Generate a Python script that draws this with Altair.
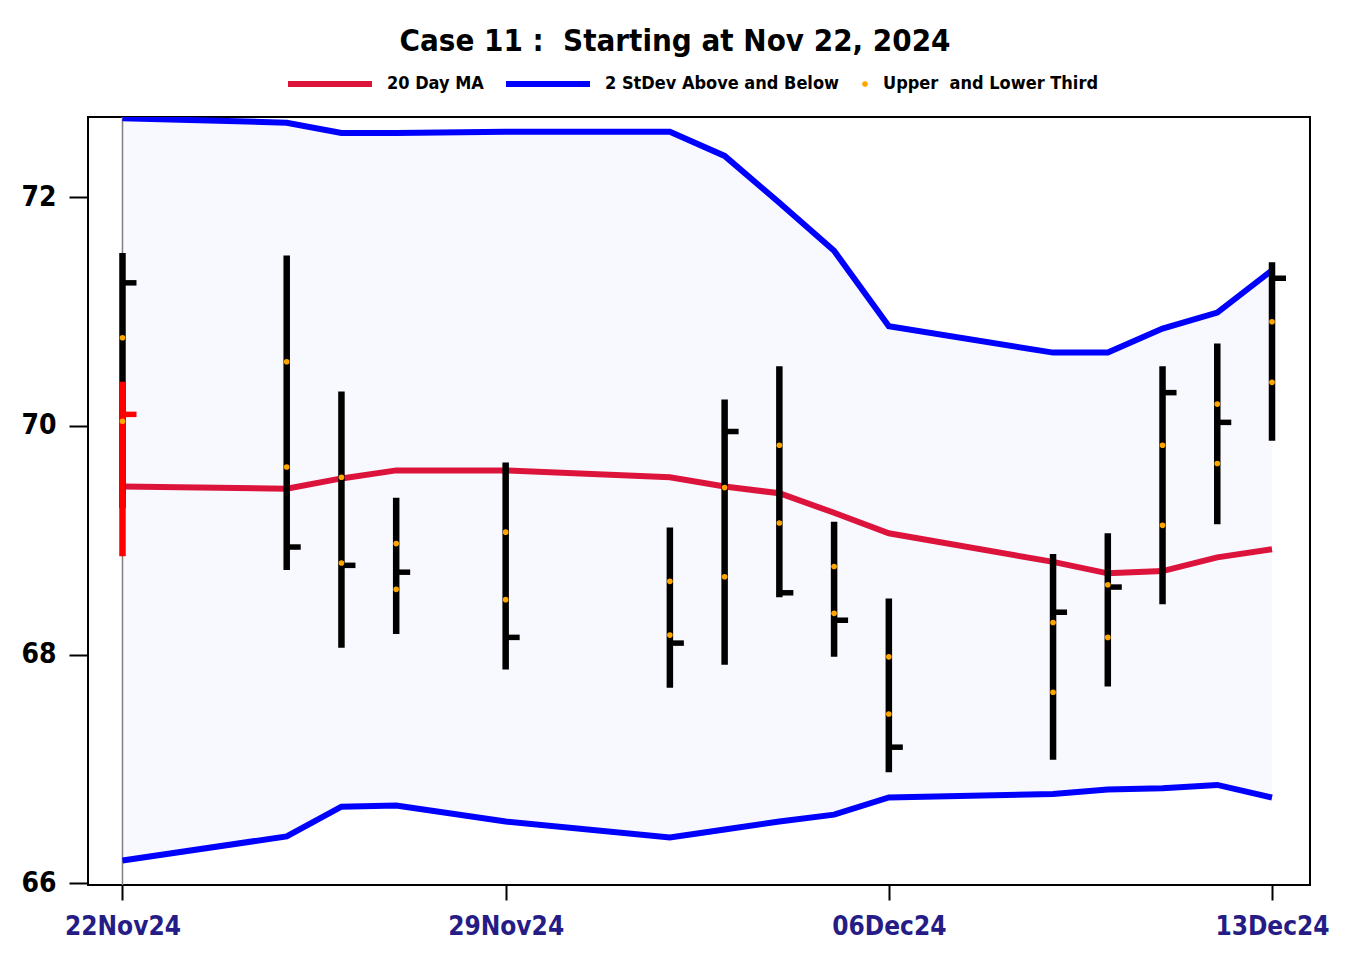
import altair as alt
import pandas as pd

# ---- data ----
dates = ["2024-11-22", "2024-11-25", "2024-11-26", "2024-11-27", "2024-11-29",
         "2024-12-02", "2024-12-03", "2024-12-04", "2024-12-05", "2024-12-06",
         "2024-12-09", "2024-12-10", "2024-12-11", "2024-12-12", "2024-12-13"]
high = [71.51, 71.49, 70.30, 69.37, 69.68, 69.11, 70.23, 70.52, 69.16, 68.49,
        68.88, 69.06, 70.52, 70.72, 71.43]
low = [69.28, 68.74, 68.06, 68.18, 67.87, 67.71, 67.91, 68.50, 67.98, 66.97,
       67.08, 67.72, 68.44, 69.14, 69.87]
close = [71.25, 68.94, 68.78, 68.72, 68.15, 68.10, 69.95, 68.54, 68.30, 67.19,
         68.37, 68.59, 70.29, 70.03, 71.29]
upper_third = [70.77, 70.56, 69.55, 68.97, 69.07, 68.64, 69.46, 69.83, 68.77, 67.98,
               68.28, 68.61, 69.83, 70.19, 70.91]
lower_third = [70.04, 69.64, 68.80, 68.57, 68.48, 68.17, 68.68, 69.15, 68.36, 67.48,
               67.67, 68.15, 69.13, 69.67, 70.38]
ma20 = [69.47, 69.45, 69.54, 69.61, 69.61, 69.55, 69.47, 69.41, 69.24, 69.06,
        68.81, 68.71, 68.73, 68.85, 68.92]
band_upper = [72.69, 72.65, 72.56, 72.56, 72.57, 72.57, 72.36, 71.95, 71.53, 70.87,
              70.64, 70.64, 70.85, 70.99, 71.36]
band_lower = [66.20, 66.41, 66.67, 66.68, 66.54, 66.40, 66.47, 66.54, 66.60, 66.75,
              66.78, 66.82, 66.83, 66.86, 66.75]

red_dates = ["2024-11-22"]
red_high = [70.385]
red_low = [68.86]
red_close = [70.10]

tick_labels = ["22Nov24", "29Nov24", "06Dec24", "13Dec24"]
tick_dates = ["2024-11-22", "2024-11-29", "2024-12-06", "2024-12-13"]
y_ticks = [66, 68, 70, 72]

ma_name = "20 Day MA"
band_name = "2 StDev Above and Below"
dot_name = "Upper\u00a0 and Lower Third"
title_text = "Case 11 :\u00a0 Starting at Nov 22, 2024"

# ---- tables ----
start = pd.Timestamp(dates[0])
def to_day(ds):
    return [(pd.Timestamp(d) - start).days for d in ds]

day = to_day(dates)
tick_days = to_day(tick_dates)

bars = pd.DataFrame({"day": day, "high": high, "low": low, "close": close})
red = pd.DataFrame({"day": to_day(red_dates), "high": red_high, "low": red_low, "close": red_close})
band = pd.DataFrame({"day": day, "upper": band_upper, "lower": band_lower})
lines = pd.concat([
    pd.DataFrame({"day": day, "value": ma20, "series": ma_name, "part": "ma"}),
    pd.DataFrame({"day": day, "value": band_upper, "series": band_name, "part": "up"}),
    pd.DataFrame({"day": day, "value": band_lower, "series": band_name, "part": "lo"}),
])
dots = pd.concat([
    pd.DataFrame({"day": day, "value": upper_third, "kind": dot_name}),
    pd.DataFrame({"day": day, "value": lower_third, "kind": dot_name}),
])
start_rule = pd.DataFrame({"day": [day[0]]})

FONT = "DejaVu Sans Condensed"
X_DOMAIN = [-0.63, 21.694]
Y_DOMAIN = [65.985, 72.70]

label_expr = "[" + ",".join(f"'{t}'" for t in tick_labels) + "][indexof([" + \
    ",".join(str(d) for d in tick_days) + "], datum.value)]"

x_axis = alt.Axis(values=tick_days, labelExpr=label_expr, title=None, grid=False, domain=False,
                  tickSize=15, tickWidth=2, tickColor="black", labelFont=FONT, labelFontSize=26,
                  labelFontWeight="bold", labelColor="#261C86", labelPadding=13,
                  labelFlush=False, labelOverlap=False)
y_axis = alt.Axis(values=y_ticks, format="d", title=None, grid=False, domain=False,
                  tickSize=19, tickWidth=2, tickColor="black", labelFont=FONT, labelFontSize=28,
                  labelFontWeight="bold", labelColor="black", labelPadding=13)

def X(field="day:Q"):
    return alt.X(field, scale=alt.Scale(domain=X_DOMAIN, nice=False, zero=False), axis=x_axis)

def Y(field):
    return alt.Y(field, scale=alt.Scale(domain=Y_DOMAIN, nice=False, zero=False), axis=y_axis)

area = alt.Chart(band).mark_area(color="#F8F8FF", opacity=1).encode(
    x=X(), y=Y("lower:Q"), y2="upper:Q")

vrule = alt.Chart(start_rule).mark_rule(color="#808080", strokeWidth=1.5).encode(x=X())

line_layer = alt.Chart(lines).mark_line(strokeWidth=6, clip=True).encode(
    x=X(), y=Y("value:Q"), detail="part:N",
    stroke=alt.Stroke("series:N",
                      scale=alt.Scale(domain=[ma_name, band_name], range=["#DC143C", "#0000FF"]),
                      legend=alt.Legend(title=None, orient="none", direction="horizontal",
                                        legendX=197, legendY=-78, symbolType="stroke",
                                        symbolSize=7056, symbolStrokeWidth=6,
                                        labelFont=FONT, labelFontSize=18, labelFontWeight="bold",
                                        labelColor="black", labelOffset=12, columnPadding=10,
                                        padding=0, labelLimit=400)))

bar_layer = alt.Chart(bars).mark_rule(color="black", strokeWidth=6.5, strokeCap="butt").encode(
    x=X(), y=Y("low:Q"), y2="high:Q")
close_layer = alt.Chart(bars).mark_rule(color="black", strokeWidth=5.5, x2Offset=14,
                                        strokeCap="butt").encode(
    x=X(), x2="day:Q", y=Y("close:Q"))

red_bar = alt.Chart(red).mark_rule(color="#FF0000", strokeWidth=6.5, strokeCap="butt").encode(
    x=X(), y=Y("low:Q"), y2="high:Q")
red_close_layer = alt.Chart(red).mark_rule(color="#FF0000", strokeWidth=5.5, x2Offset=14,
                                           strokeCap="butt").encode(
    x=X(), x2="day:Q", y=Y("close:Q"))

dot_layer = alt.Chart(dots).mark_circle(size=32, opacity=1).encode(
    x=X(), y=Y("value:Q"),
    color=alt.Color("kind:N", scale=alt.Scale(domain=[dot_name], range=["#FFA500"]),
                    legend=alt.Legend(title=None, orient="none", legendX=768, legendY=-42,
                                      symbolType="circle", symbolSize=32,
                                      labelFont=FONT, labelFontSize=18, labelFontWeight="bold",
                                      labelColor="black", labelOffset=9, padding=0,
                                      labelLimit=400)))

chart = alt.layer(area, vrule, line_layer, bar_layer, close_layer, red_bar, red_close_layer,
                  dot_layer).properties(
    width=1222, height=768,
    background="white",
    autosize=alt.AutoSizeParams(type="none"),
    padding={"left": 80, "top": 109, "right": 30, "bottom": 80},
    title=alt.TitleParams(title_text, font=FONT, fontSize=31, fontWeight="bold", color="black",
                          anchor="middle", dx=-24, offset=0, dy=19),
).configure_view(stroke="black", strokeWidth=2)

chart.save("out.html", embed_options={"renderer": "svg", "actions": False})
